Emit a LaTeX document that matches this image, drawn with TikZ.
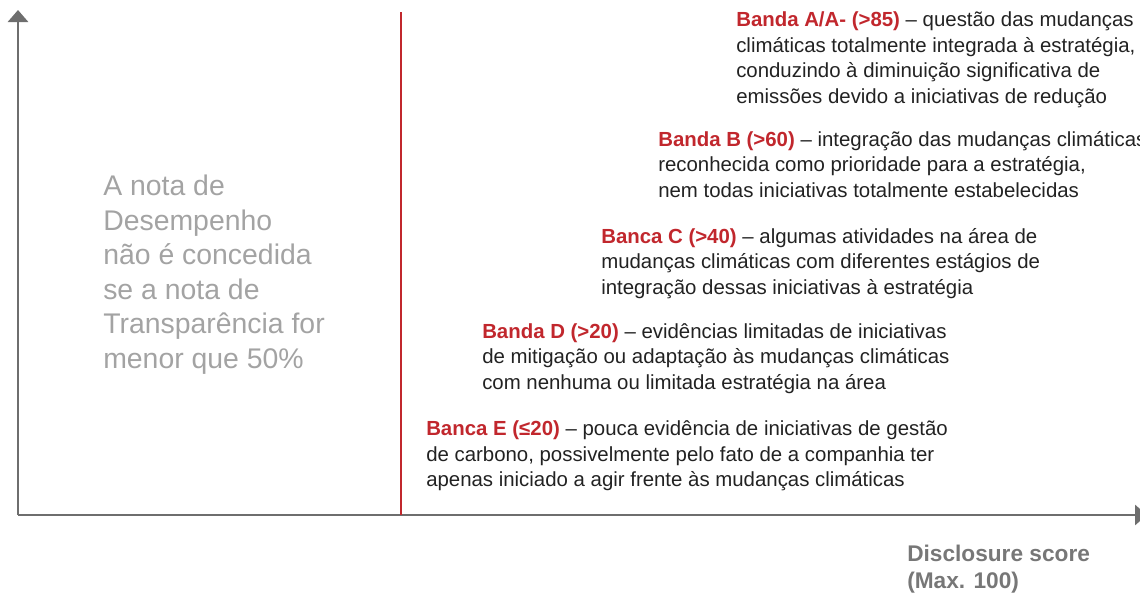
\documentclass[tikz,border=0pt]{standalone}
\usepackage{fontspec}
\setmainfont{Liberation Sans}
\usetikzlibrary{arrows.meta}

\definecolor{bandred}{HTML}{C1272D}
\definecolor{axisgray}{HTML}{6E6E6E}
\definecolor{notegray}{HTML}{A3A3A3}
\definecolor{scoregray}{HTML}{777777}
\definecolor{textdark}{HTML}{222222}

\newcommand{\bandlabel}[1]{\textcolor{bandred}{\bfseries #1}}

\begin{document}
\begin{tikzpicture}[x=0.75pt, y=-0.75pt,
        axis/.style={draw=axisgray, line width=2.2pt, -{Triangle[width=15pt,length=9pt]}},
        banda/.style={anchor=north west, inner sep=0pt, align=left, text=textdark,
            font=\fontsize{15.3}{19.2}\selectfont},
        note/.style={anchor=north west, inner sep=0pt, align=left, text=notegray,
            font=\fontsize{21.3}{25.9}\selectfont},
        score/.style={anchor=north west, inner sep=0pt, align=left, text=scoregray,
            font=\fontsize{17}{20.3}\selectfont\bfseries}]
        \useasboundingbox (0,0) rectangle (1140,594);

        \coordinate (O) at (18,515);
        \coordinate (Ytop) at (18,10);
        \coordinate (Xend) at (1147,515);
        \coordinate (Rtop) at (401,12);
        \coordinate (Rbot) at (401,515);

        \draw[axis] (O) -- (Ytop);
        \draw[axis] (O) -- (Xend);
        \draw[bandred, line width=1.5pt] (Rtop) -- (Rbot);

        \node[note] (nota) at (103,175) {A nota de\\Desempenho\\não é concedida\\se a nota de\\Transparência for\\menor que 50\%};

        \node[banda] (bandaA) at (736,11.5) {\bandlabel{Banda A/A- (>85)} – questão das mudanças\\climáticas totalmente integrada à estratégia,\\conduzindo à diminuição significativa de\\emissões devido a iniciativas de redução};
        \node[banda] (bandaB) at (658,131) {\bandlabel{Banda B (>60)} – integração das mudanças climáticas\\reconhecida como prioridade para a estratégia,\\nem todas iniciativas totalmente estabelecidas};
        \node[banda] (bandaC) at (601,228) {\bandlabel{Banca C (>40)} – algumas atividades na área de\\mudanças climáticas com diferentes estágios de\\integração dessas iniciativas à estratégia};
        \node[banda] (bandaD) at (482,323) {\bandlabel{Banda D (>20)} – evidências limitadas de iniciativas\\de mitigação ou adaptação às mudanças climáticas\\com nenhuma ou limitada estratégia na área};
        \node[banda] (bandaE) at (426,420.5) {\bandlabel{Banca E (≤20)} – pouca evidência de iniciativas de gestão\\de carbono, possivelmente pelo fato de a companhia ter\\apenas iniciado a agir frente às mudanças climáticas};

        \node[score] (disclosure) at (907,545) {Disclosure score\\(Max. 100)};
    \end{tikzpicture}
\end{document}
